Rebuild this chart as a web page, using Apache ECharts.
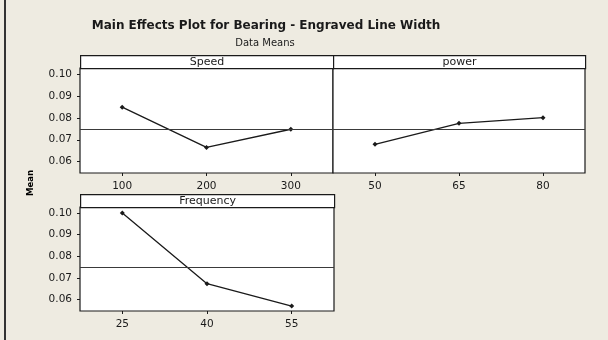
<!DOCTYPE html>
<html>
<head>
<meta charset="utf-8">
<script src="https://cdn.jsdelivr.net/npm/echarts@6/dist/echarts.min.js"></script>
<style>
  html, body { margin: 0; padding: 0; background: #EEEBE1; }
  #chart { width: 608px; height: 340px; }
</style>
</head>
<body>
<div id="chart"></div>
<script>
// Factor levels and the mean response at each level
const speedLevels = ['100', '200', '300'];
const speedMeans = [0.0849, 0.0665, 0.0748];

const powerLevels = ['50', '65', '80'];
const powerMeans = [0.0679, 0.0775, 0.0801];

const freqLevels = ['25', '40', '55'];
const freqMeans = [0.1000, 0.0674, 0.0571];

// Overall mean of the response (horizontal reference line in each panel)
const grandMean = 0.0749;

// Value-axis tick labels
const yTicks = [0.06, 0.07, 0.08, 0.09, 0.10];

const panelNames = ['Speed', 'power', 'Frequency'];

const FONT = 'DejaVu Sans';
const INK = '#1a1a1a';

const chart = echarts.init(document.getElementById('chart'), null, { renderer: 'canvas' });

const panels = [
  { left: 80,  top: 68,  width: 253, height: 105, levels: speedLevels, means: speedMeans, showY: true },
  { left: 333, top: 68,  width: 252, height: 105, levels: powerLevels, means: powerMeans, showY: false },
  { left: 80,  top: 207, width: 254, height: 104, levels: freqLevels,  means: freqMeans,  showY: true }
];

const grids = [], xAxes = [], yAxes = [], series = [], graphics = [];

panels.forEach((p, i) => {
  grids.push({
    left: p.left, top: p.top, width: p.width, height: p.height,
    show: true, backgroundColor: '#ffffff', borderColor: INK, borderWidth: 1.2
  });
  xAxes.push({
    type: 'category', gridIndex: i, data: p.levels, boundaryGap: true,
    axisLine: { show: false },
    axisTick: { show: true, alignWithLabel: true, length: 3, lineStyle: { color: INK } },
    axisLabel: { color: INK, fontFamily: FONT, fontSize: 10.5, margin: 8 }
  });
  yAxes.push({
    type: 'value', gridIndex: i, min: 0.0548, max: 0.1028,
    splitLine: { show: false },
    axisLine: { show: false },
    axisTick: { show: p.showY, length: 3, customValues: yTicks, lineStyle: { color: INK } },
    axisLabel: {
      show: p.showY, customValues: yTicks, color: INK, fontFamily: FONT, fontSize: 10.5, margin: 8,
      formatter: v => v.toFixed(2)
    }
  });
  series.push({
    type: 'line', xAxisIndex: i, yAxisIndex: i, data: p.means,
    symbol: 'diamond', symbolSize: 5, showSymbol: true,
    lineStyle: { color: INK, width: 1.3 },
    itemStyle: { color: INK },
    markLine: {
      silent: true, symbol: 'none', precision: 4, label: { show: false },
      lineStyle: { color: '#3a3a3a', width: 1.2, type: 'solid' },
      data: [{ yAxis: grandMean }]
    }
  });
  // panel header strip with the factor name
  graphics.push({
    type: 'group', left: p.left, top: p.top - 13,
    children: [
      { type: 'rect', shape: { x: 0, y: 0, width: p.width, height: 13 },
        style: { fill: '#ffffff', stroke: INK, lineWidth: 1.2 } },
      { type: 'text', x: p.width / 2, y: 6.5,
        style: { text: panelNames[i], fill: INK, font: '11px "DejaVu Sans"', align: 'center', verticalAlign: 'middle' } }
    ]
  });
});

// left frame edge
graphics.push({ type: 'rect', left: 4, top: 0, shape: { x: 0, y: 0, width: 2, height: 340 }, style: { fill: '#333333' } });
// shared value-axis name
graphics.push({
  type: 'text', x: 31, y: 183, rotation: Math.PI / 2,
  style: { text: 'Mean', fill: '#000', font: 'bold 8.5px "DejaVu Sans"', align: 'center', verticalAlign: 'middle' }
});

chart.setOption({
  animation: false,
  backgroundColor: '#EEEBE1',
  title: [
    { text: 'Main Effects Plot for Bearing - Engraved Line Width', left: 261, top: 15, textAlign: 'center',
      textStyle: { fontFamily: FONT, fontWeight: 'bold', fontSize: 12, color: INK } },
    { text: 'Data Means', left: 260, top: 33, textAlign: 'center',
      textStyle: { fontFamily: FONT, fontWeight: 'normal', fontSize: 10, color: INK } }
  ],
  grid: grids,
  xAxis: xAxes,
  yAxis: yAxes,
  series: series,
  graphic: graphics
});
</script>
</body>
</html>
